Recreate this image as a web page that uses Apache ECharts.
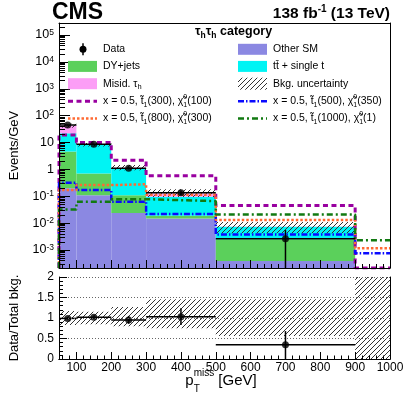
<!DOCTYPE html>
<html><head><meta charset="utf-8">
<script src="https://cdn.jsdelivr.net/npm/echarts@6/dist/echarts.min.js"></script>
<style>html,body{margin:0;padding:0;background:#fff}#c{width:411px;height:395px}</style>
</head><body><div id="c"></div>
<script>
// ---------------- data (events / GeV) ----------------
const binEdges = [50, 100, 200, 300, 500, 900, 1000];
const otherSM   = [0.20, 0.11, 0.024, 0.015, 0.00039, 0];
const dyJets    = [4.4, 0.60, 0.086, 0.0037, 0.0021, 0];
const ttSingleT = [17.4, 7.5, 0.94, 0.077, 0.0049, 0];
const misidTau  = [21, 0.15, 0.10, 0.030, 0.0001, 0];
const bkgUncLo  = [0.83, 0.85, 0.80, 0.75, 0.56, 0];
const bkgUncHi  = [1.17, 1.15, 1.27, 1.46, 1.46, 2];
const sig300_100  = [19, 10, 2.2, 0.58, 0.045, 0];
const sig500_350  = [0.32, 0.17, 0.063, 0.022, 0.0038, 0.00076];
const sig800_300  = [0.17, 0.26, 0.28, 0.115, 0.013, 0.00115];
const sig1000_1   = [0.032, 0.062, 0.078, 0.066, 0.021, 0.0023];
const dataX  = [75, 150, 250, 400, 700];
const dataY  = [44.8, 8.6, 1.1, 0.135, 0.0026];
const dataLo = [43.5, 8.3, 1.0, 0.11, 0];
const dataHi = [46.2, 8.9, 1.2, 0.165, 0.0055];
const ratioY  = [0.99, 1.02, 0.95, 1.03, 0.35];
const ratioLo = [0.96, 0.98, 0.86, 0.83, 0];
const ratioHi = [1.02, 1.06, 1.05, 1.24, 0.68];
const xTickLabels = [100, 200, 300, 400, 500, 600, 700, 800, 900, 1000];
const yTickLabels = [1e-3, 1e-2, 1e-1, 1, 10, 1e2, 1e3, 1e4, 1e5];
const ratioTickLabels = [0, 0.5, 1, 1.5, 2];

// ---------------- helpers ----------------
const FF = '"Liberation Sans", Arial, Helvetica, sans-serif';
const yMin = 2.14e-4, yMax = 2.8e5;
const clampY = v => Math.max(v, yMin);
const compColors = ['#8b88e2', '#5bd05b', '#00f4f4', '#fc9ef6'];
const sigStyles = [
  {color: '#9900a0', width: 3, type: [5, 3.5]},
  {color: '#0a0aff', width: 2.5, type: [6, 2, 1.5, 2]},
  {color: '#ff6a33', width: 2.5, type: [2.5, 2]},
  {color: '#117a11', width: 2.5, type: [6, 3, 2, 3]}
];
function makeHatch() {
  const s = 5, c = document.createElement('canvas');
  c.width = s; c.height = s;
  const g = c.getContext('2d');
  g.strokeStyle = '#333'; g.lineWidth = 1;
  g.beginPath();
  for (let k = -1; k <= 1; k++) { g.moveTo(k * s, s); g.lineTo(k * s + s, 0); }
  g.stroke();
  return c;
}
const hatch = {image: makeHatch(), repeat: 'repeat'};

const comps = [otherSM, dyJets, ttSingleT, misidTau];
const stackData = [], totals = [];
for (let i = 0; i < binEdges.length - 1; i++) {
  let lo = yMin, cum = 0;
  comps.forEach((c, k) => {
    cum += c[i];
    if (c[i] > 0) { stackData.push([binEdges[i], binEdges[i + 1], lo, cum, k]); lo = cum; }
  });
  totals.push(cum);
}
const bandData = [];
totals.forEach((t, i) => { if (t > 0) bandData.push([binEdges[i], binEdges[i + 1], t * bkgUncLo[i], t * bkgUncHi[i]]); });
const ratioBand = totals.map((t, i) => [binEdges[i], binEdges[i + 1], bkgUncLo[i], bkgUncHi[i]]);
function stepData(v) {
  const d = [[binEdges[0], yMin]];
  v.forEach((y, i) => d.push([binEdges[i], clampY(y)]));
  d.push([binEdges[binEdges.length - 1], clampY(v[v.length - 1])]);
  return d;
}
const dataErr = dataX.map((x, i) => [x, dataY[i], Math.max(dataLo[i], yMin * 0.3), dataHi[i], binEdges[i], binEdges[i + 1]]);
const ratioErr = dataX.map((x, i) => [x, ratioY[i], ratioLo[i], ratioHi[i], binEdges[i], binEdges[i + 1]]);

const yMinor = [];
for (let e = -4; e <= 5; e++) for (let m = 2; m <= 9; m++) { const v = m * Math.pow(10, e); if (v > yMin && v < yMax) yMinor.push(v); }
const xMinor = [];
for (let v = 60; v < 1000; v += 20) if (v % 100 !== 0) xMinor.push(v);
const rMinor = [];
for (let k = 1; k < 20; k++) if (k % 5 !== 0) rMinor.push(k / 10);

function rectRender(fillFn) {
  return function (params, api) {
    const p0 = api.coord([api.value(0), api.value(3)]);
    const p1 = api.coord([api.value(1), api.value(2)]);
    return {type: 'rect', shape: {x: p0[0], y: p0[1], width: p1[0] - p0[0], height: p1[1] - p0[1]},
      style: {fill: fillFn(api), stroke: null}};
  };
}
function errRender(params, api) {
  const x = api.value(0), y = api.value(1);
  const cl = api.coord([x, api.value(2)]), ch = api.coord([x, api.value(3)]);
  const l = api.coord([api.value(4), y]), r = api.coord([api.value(5), y]);
  return {type: 'group', children: [
    {type: 'line', shape: {x1: l[0], y1: l[1], x2: r[0], y2: r[1]}, style: {stroke: '#000', lineWidth: 1.5}},
    {type: 'line', shape: {x1: cl[0], y1: cl[1], x2: ch[0], y2: ch[1]}, style: {stroke: '#000', lineWidth: 1.5}}
  ]};
}

// text measuring for composite labels
const mc = document.createElement('canvas').getContext('2d');
function tw(s, size, weight) { mc.font = (weight || 'normal') + ' ' + size + 'px ' + FF; return mc.measureText(s).width; }
function seqWidth(parts, weight) {
  let w = 0, pend = 0;
  parts.forEach(p => { const ww = tw(p[0], p[1], weight); if (p[3] === false) pend = ww; else { w += Math.max(ww, pend); pend = 0; } });
  return w;
}
function seqText(x, yc, parts, weight) {
  const out = []; let cx = x, pend = 0;
  parts.forEach(p => {
    out.push({type: 'text', x: cx, y: yc + (p[2] || 0), z: 60,
      style: {text: p[0], fontSize: p[1], fontFamily: FF, fontWeight: weight || 'normal', fill: '#000',
        align: 'left', verticalAlign: 'middle', textAlign: 'left', textVerticalAlign: 'middle'}});
    const ww = tw(p[0], p[1], weight);
    if (p[3] === false) pend = ww; else { cx += Math.max(ww, pend); pend = 0; }
  });
  return out;
}
function sigLabel(stop, lsp) {
  return [['x = 0.5, t\u0303', 10.5, 0], ['1', 7, 3.5], ['(' + stop + '), \u03c7\u0303', 10.5, 0],
          ['0', 7, -4.5, false], ['1', 7, 3.5], ['(' + lsp + ')', 10.5, 0]];
}

// ---------------- graphics: header, legend, x title ----------------
const G = [];
G.push(...seqText(52, 13, [['CMS', 23, 0]], 'bold'));
const lumiParts = [['138 fb', 15.5, 0], ['-1', 10, -5], [' (13 TeV)', 15.5, 0]];
G.push(...seqText(390 - seqWidth(lumiParts, 'bold'), 14.2, lumiParts, 'bold'));
G.push(...seqText(195, 32, [['\u03c4', 12.5, 0], ['h', 8.5, 3.5], ['\u03c4', 12.5, 0], ['h', 8.5, 3.5], [' category', 12.5, 0]], 'bold'));

const rows = [49.3, 66.4, 83.7, 101.3, 118.6];
const LX0 = 68, LX1 = 97, LT = 103, RX0 = 238, RX1 = 267, RT = 273;
function box(x0, x1, y, fill) { return {type: 'rect', z: 60, shape: {x: x0, y: y - 5.5, width: x1 - x0, height: 11}, style: {fill: fill}}; }
function keyLine(x0, x1, y, st) { return {type: 'line', z: 60, shape: {x1: x0, y1: y, x2: x1, y2: y}, style: {stroke: st.color, lineWidth: st.width, lineDash: st.type}}; }
// data key
G.push({type: 'line', z: 60, shape: {x1: 83, y1: rows[0] - 6, x2: 83, y2: rows[0] + 6}, style: {stroke: '#000', lineWidth: 1.5}});
G.push({type: 'circle', z: 61, shape: {cx: 83, cy: rows[0], r: 3.5}, style: {fill: '#000'}});
G.push(...seqText(LT, rows[0], [['Data', 10.5, 0]]));
G.push(box(RX0, RX1, rows[0], compColors[0]));
G.push(...seqText(RT, rows[0], [['Other SM', 10.5, 0]]));
G.push(box(LX0, LX1, rows[1], compColors[1]));
G.push(...seqText(LT, rows[1], [['DY+jets', 10.5, 0]]));
G.push(box(RX0, RX1, rows[1], compColors[2]));
G.push(...seqText(RT, rows[1], [['tt\u0304 + single t', 10.5, 0]]));
G.push(box(LX0, LX1, rows[2], compColors[3]));
G.push(...seqText(LT, rows[2], [['Misid. \u03c4', 10.5, 0], ['h', 7.5, 3.5]]));
G.push({type: 'rect', z: 60, shape: {x: RX0, y: rows[2] - 6, width: RX1 - RX0, height: 12}, style: {fill: hatch}});
G.push(...seqText(RT, rows[2], [['Bkg. uncertainty', 10.5, 0]]));
G.push(keyLine(LX0, LX1, rows[3], sigStyles[0]));
G.push(...seqText(LT, rows[3], sigLabel(300, 100)));
G.push(keyLine(RX0, RX1, rows[3], sigStyles[1]));
G.push(...seqText(RT, rows[3], sigLabel(500, 350)));
G.push(keyLine(LX0, LX1, rows[4], sigStyles[2]));
G.push(...seqText(LT, rows[4], sigLabel(800, 300)));
G.push(keyLine(RX0, RX1, rows[4], sigStyles[3]));
G.push(...seqText(RT, rows[4], sigLabel(1000, 1)));
// x axis title
const xtParts = [['p', 15, 0], ['miss', 10, -8, false], ['T', 10, 8.5], [' [GeV]', 15, 0]];
G.push(...seqText(221 - seqWidth(xtParts) / 2, 381, xtParts));

// ---------------- axes ----------------
const black = {color: '#000', width: 1};
function xAx(grid, opts) {
  return Object.assign({type: 'value', gridIndex: grid, min: 50, max: 1000, position: 'bottom', z: 10,
    axisLine: {show: false}, axisTick: {show: false}, axisLabel: {show: false}, splitLine: {show: false}}, opts);
}
const xAxes = [
  xAx(0, {axisLine: {show: true, lineStyle: black}, axisTick: {show: true, inside: true, length: 8, customValues: xTickLabels, lineStyle: black}}),
  xAx(0, {axisTick: {show: true, inside: true, length: 4, customValues: xMinor, lineStyle: black}}),
  xAx(0, {position: 'top', axisLine: {show: true, lineStyle: black}}),
  xAx(1, {axisLine: {show: true, lineStyle: black}, axisTick: {show: true, inside: true, length: 7, customValues: xTickLabels, lineStyle: black},
    axisLabel: {show: true, customValues: xTickLabels, margin: 3, color: '#000', fontSize: 12, fontFamily: FF, formatter: v => String(v)}}),
  xAx(1, {axisTick: {show: true, inside: true, length: 3.5, customValues: xMinor, lineStyle: black}}),
  xAx(1, {position: 'top', axisLine: {show: true, lineStyle: black}})
];
function logLabel(v) {
  const e = Math.round(Math.log10(v));
  if (e === 0) return '{b|1}';
  if (e === 1) return '{b|10}';
  return '{b|10}{s|' + e + '}';
}
const yAxes = [
  {type: 'log', gridIndex: 0, min: yMin, max: yMax, position: 'left', z: 10,
    name: 'Events/GeV', nameLocation: 'middle', nameGap: 38, nameRotate: 90,
    nameTextStyle: {fontSize: 13, fontFamily: FF, color: '#000'},
    axisLine: {show: true, lineStyle: black},
    axisTick: {show: true, inside: true, length: 11, customValues: yTickLabels, lineStyle: black},
    axisLabel: {show: true, customValues: yTickLabels, margin: 5, formatter: logLabel,
      rich: {b: {fontSize: 12.5, fontFamily: FF, color: '#000', lineHeight: 14},
             s: {fontSize: 8.5, fontFamily: FF, color: '#000', verticalAlign: 'top', lineHeight: 9}}},
    splitLine: {show: false}},
  {type: 'log', gridIndex: 0, min: yMin, max: yMax, position: 'left', z: 10,
    axisLine: {show: false}, axisTick: {show: true, inside: true, length: 6, customValues: yMinor, lineStyle: black},
    axisLabel: {show: false}, splitLine: {show: false}},
  {type: 'value', gridIndex: 0, position: 'right', z: 10, axisLine: {show: true, lineStyle: black},
    axisTick: {show: false}, axisLabel: {show: false}, splitLine: {show: false}},
  {type: 'value', gridIndex: 1, min: 0, max: 2, interval: 0.5, position: 'left', z: 10,
    name: 'Data/Total bkg.', nameLocation: 'middle', nameGap: 38, nameRotate: 90,
    nameTextStyle: {fontSize: 13, fontFamily: FF, color: '#000'},
    axisLine: {show: true, lineStyle: black},
    axisTick: {show: true, inside: true, length: 8, lineStyle: black},
    axisLabel: {show: true, margin: 5, color: '#000', fontSize: 12, fontFamily: FF, formatter: v => String(v)},
    splitLine: {show: true, lineStyle: {color: '#666', width: 1, type: [1, 2]}}},
  {type: 'value', gridIndex: 1, min: 0, max: 2, position: 'left', z: 10,
    axisLine: {show: false}, axisTick: {show: true, inside: true, length: 4, customValues: rMinor, lineStyle: black},
    axisLabel: {show: false}, splitLine: {show: false}},
  {type: 'value', gridIndex: 1, position: 'right', z: 10, axisLine: {show: true, lineStyle: black},
    axisTick: {show: false}, axisLabel: {show: false}, splitLine: {show: false}}
];

const sigArrays = [sig300_100, sig500_350, sig800_300, sig1000_1];
const sigNames = ['x=0.5 stop300 lsp100', 'x=0.5 stop500 lsp350', 'x=0.5 stop800 lsp300', 'x=0.5 stop1000 lsp1'];

const series = [
  {type: 'custom', name: 'stack', xAxisIndex: 0, yAxisIndex: 0, z: 2, clip: true, data: stackData,
    encode: {x: [0, 1], y: [2, 3]}, renderItem: rectRender(api => compColors[api.value(4)])},
  {type: 'custom', name: 'Bkg. uncertainty', xAxisIndex: 0, yAxisIndex: 0, z: 3, clip: true, data: bandData,
    encode: {x: [0, 1], y: [2, 3]}, renderItem: rectRender(() => hatch)}
];
sigArrays.forEach((s, k) => series.push({
  type: 'line', name: sigNames[k], xAxisIndex: 0, yAxisIndex: 0, z: 4, clip: true, step: 'end',
  showSymbol: false, symbol: 'none', data: stepData(s),
  lineStyle: {color: sigStyles[k].color, width: sigStyles[k].width, type: sigStyles[k].type}
}));
series.push(
  {type: 'custom', name: 'data err', xAxisIndex: 0, yAxisIndex: 0, z: 5, clip: true, data: dataErr,
    encode: {x: [0, 4, 5], y: [1, 2, 3]}, renderItem: errRender},
  {type: 'scatter', name: 'Data', xAxisIndex: 0, yAxisIndex: 0, z: 6, symbol: 'circle', symbolSize: 7,
    itemStyle: {color: '#000'}, data: dataX.map((x, i) => [x, dataY[i]])},
  {type: 'custom', name: 'ratio band', xAxisIndex: 3, yAxisIndex: 3, z: 3, clip: true, data: ratioBand,
    encode: {x: [0, 1], y: [2, 3]}, renderItem: rectRender(() => hatch)},
  {type: 'custom', name: 'ratio err', xAxisIndex: 3, yAxisIndex: 3, z: 5, clip: true, data: ratioErr,
    encode: {x: [0, 4, 5], y: [1, 2, 3]}, renderItem: errRender},
  {type: 'scatter', name: 'ratio', xAxisIndex: 3, yAxisIndex: 3, z: 6, symbol: 'circle', symbolSize: 7,
    itemStyle: {color: '#000'}, data: dataX.map((x, i) => [x, ratioY[i]])}
);

const chart = echarts.init(document.getElementById('c'), null, {renderer: 'canvas', width: 411, height: 395});
chart.setOption({
  animation: false,
  backgroundColor: '#fff',
  grid: [
    {left: 52, top: 23, width: 338, height: 245, show: false},
    {left: 52, top: 277, width: 338, height: 82, show: false}
  ],
  xAxis: xAxes,
  yAxis: yAxes,
  series: series,
  graphic: G
});
</script>
</body></html>
